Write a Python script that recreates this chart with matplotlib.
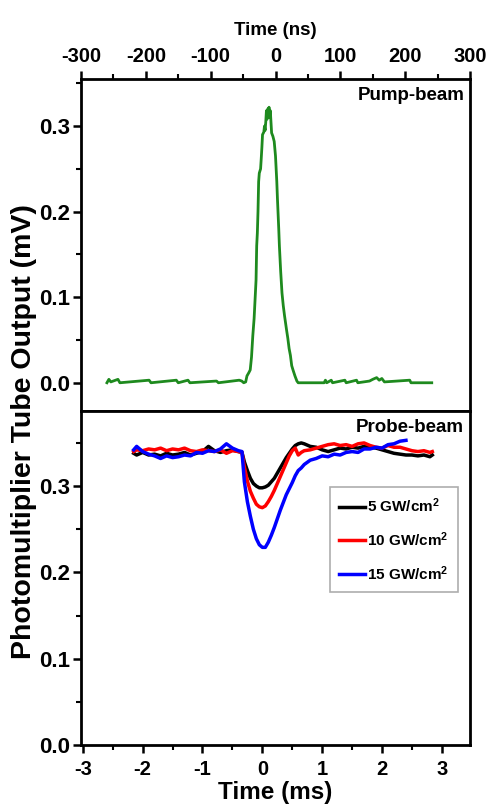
import matplotlib
matplotlib.use('Agg')
import matplotlib.pyplot as plt
from matplotlib.ticker import MultipleLocator

plt.rcParams['font.family'] = ['Liberation Sans', 'DejaVu Sans']
plt.rcParams['font.weight'] = 'bold'
plt.rcParams['mathtext.fontset'] = 'custom'
plt.rcParams['mathtext.rm'] = 'Liberation Sans:bold'
plt.rcParams['mathtext.it'] = 'Liberation Sans:bold'
plt.rcParams['mathtext.bf'] = 'Liberation Sans:bold'

# pump pulse (top panel), time in ns, output in mV
pump_t = [-260, -257, -254, -243, -240, -195, -192, -153, -150, -135, -132, -91, -88,
          -56, -52, -49, -46, -44, -41, -39, -37, -35, -33, -31, -30, -29, -28, -27,
          -26, -25, -23, -22, -21, -20, -18, -17, -16, -15, -14, -13, -12, -11, -10,
          -9, -8, -7, -6, -4, -2, 0, 2, 3, 5, 6, 8, 10, 12, 14, 17, 19, 21, 23, 25,
          27, 30, 33, 35, 75, 77, 79, 86, 88, 107, 109, 125, 127, 145, 150, 156, 160,
          164, 168, 207, 209, 241]
pump_v = [0.000, 0.004, 0.001, 0.004, 0.000, 0.003, 0.000, 0.003, 0.000, 0.003, 0.000, 0.002, 0.000,
          0.003, 0.002, 0.000, 0.001, 0.008, 0.012, 0.015, 0.030, 0.055, 0.075, 0.105, 0.120, 0.160, 0.175, 0.200,
          0.235, 0.245, 0.250, 0.262, 0.275, 0.290, 0.293, 0.300, 0.295, 0.305, 0.318, 0.308, 0.320, 0.312, 0.322,
          0.310, 0.318, 0.305, 0.292, 0.288, 0.282, 0.265, 0.235, 0.215, 0.180, 0.160, 0.130, 0.105, 0.090, 0.078, 0.062, 0.052, 0.040, 0.032, 0.020,
          0.015, 0.008, 0.002, 0.000, 0.000, 0.003, 0.000, 0.003, 0.000, 0.003, 0.000, 0.003, 0.000, 0.002, 0.004, 0.006, 0.003,
          0.005, 0.001, 0.003, 0.000, 0.000]

# probe beam (bottom panel), time in ms
probe_t = [-2.15, -2.1, -2.0, -1.9, -1.8, -1.7, -1.6, -1.5, -1.4, -1.3, -1.2, -1.1, -1.0, -0.9,
           -0.8, -0.7, -0.6, -0.5, -0.4, -0.34,
           -0.3, -0.25, -0.2, -0.15, -0.1, -0.05, 0.0, 0.05, 0.1, 0.15, 0.2, 0.25, 0.3, 0.35,
           0.4, 0.45, 0.5, 0.55, 0.6, 0.65, 0.7,
           0.8, 0.9, 1.0, 1.1, 1.2, 1.3, 1.4, 1.5, 1.6, 1.7, 1.8, 1.9, 2.0, 2.1, 2.2, 2.3, 2.4,
           2.5, 2.6, 2.7, 2.8, 2.84]
probe_5 = [0.338, 0.336, 0.339, 0.336, 0.337, 0.335, 0.338, 0.336, 0.337, 0.339, 0.336, 0.338, 0.340, 0.346,
           0.341, 0.339, 0.341, 0.342, 0.340, 0.339,
           0.328, 0.318, 0.309, 0.303, 0.300, 0.298, 0.298, 0.299, 0.301, 0.305, 0.309, 0.315, 0.321, 0.327,
           0.333, 0.338, 0.343, 0.347, 0.349, 0.350, 0.349,
           0.346, 0.345, 0.342, 0.340, 0.342, 0.344, 0.343, 0.345, 0.344, 0.346, 0.345, 0.344, 0.342, 0.340, 0.338, 0.337, 0.336,
           0.336, 0.335, 0.336, 0.334, 0.336]
probe_10 = [0.340, 0.342, 0.341, 0.343, 0.342, 0.344, 0.341, 0.343, 0.342, 0.344, 0.341, 0.340, 0.342, 0.341,
            0.340, 0.342, 0.338, 0.341, 0.340, 0.339,
            0.322, 0.306, 0.294, 0.286, 0.279, 0.276, 0.275, 0.277, 0.282, 0.288, 0.295, 0.303, 0.311, 0.319,
            0.327, 0.335, 0.341, 0.344, 0.336, 0.339, 0.341,
            0.342, 0.344, 0.346, 0.348, 0.349, 0.347, 0.348, 0.346, 0.349, 0.350, 0.347, 0.345, 0.344, 0.347, 0.345, 0.345, 0.343,
            0.341, 0.340, 0.341, 0.339, 0.340]
probe_15 = [0.342, 0.346, 0.340, 0.337, 0.335, 0.332, 0.335, 0.333, 0.334, 0.336, 0.335, 0.339, 0.338, 0.341,
            0.340, 0.343, 0.349, 0.344, 0.341, 0.340,
            0.305, 0.282, 0.265, 0.250, 0.239, 0.232, 0.229, 0.229, 0.235, 0.243, 0.252, 0.262, 0.272, 0.281,
            0.290, 0.297, 0.304, 0.312, 0.318, 0.321, 0.325,
            0.330, 0.332, 0.335, 0.334, 0.337, 0.336, 0.339, 0.340, 0.339, 0.343, 0.343, 0.345, 0.344, 0.348, 0.349, 0.352, 0.353]
probe_labels = ['5 GW/cm$^2$', '10 GW/cm$^2$', '15 GW/cm$^2$']
probe_colors = ['black', 'red', 'blue']

ns_ticks = [-300, -200, -100, 0, 100, 200, 300]
ms_ticks = [-3, -2, -1, 0, 1, 2, 3]
mv_ticks = [0.0, 0.1, 0.2, 0.3]

W, H = 488, 805
fig = plt.figure(figsize=(W / 100, H / 100), dpi=100)
ax1 = fig.add_axes([81 / W, 1 - 411 / H, 389 / W, 332 / H])
ax2 = fig.add_axes([81 / W, 1 - 745 / H, 389 / W, 334 / H])

# top panel
ax1.plot(pump_t, pump_v, color='#1e8a1e', lw=2)
ax1.set_xlim(-300, 300)
ax1.set_ylim(-0.033, 0.355)
ax1.xaxis.tick_top()
ax1.xaxis.set_label_position('top')
ax1.set_xlabel('Time (ns)', fontsize=13.5, fontweight='bold', labelpad=9)
ax1.set_xticks(ns_ticks)
ax1.set_xticklabels([str(v) for v in ns_ticks])
ax1.xaxis.set_minor_locator(MultipleLocator(50))
ax1.set_yticks(mv_ticks)
ax1.set_yticklabels(['%.1f' % v for v in mv_ticks])
ax1.yaxis.set_minor_locator(MultipleLocator(0.05))
ax1.text(0.985, 0.975, 'Pump-beam', transform=ax1.transAxes, ha='right', va='top',
         fontsize=13.5, fontweight='bold')

# bottom panel
for vals, lab, col in zip([probe_5, probe_10, probe_15], probe_labels, probe_colors):
    ax2.plot(probe_t[:len(vals)], vals, color=col, lw=2.5, label=lab)
ax2.set_xlim(-3.03, 3.47)
ax2.set_ylim(0, 0.387)
ax2.set_xlabel('Time (ms)', fontsize=17.5, fontweight='bold', labelpad=1)
ax2.set_xticks(ms_ticks)
ax2.set_xticklabels([str(v) for v in ms_ticks])
ax2.xaxis.set_minor_locator(MultipleLocator(0.5))
ax2.set_yticks(mv_ticks)
ax2.set_yticklabels(['%.1f' % v for v in mv_ticks])
ax2.yaxis.set_minor_locator(MultipleLocator(0.05))
ax2.text(0.985, 0.975, 'Probe-beam', transform=ax2.transAxes, ha='right', va='top',
         fontsize=13.5, fontweight='bold')
leg = ax2.legend(loc='upper right', bbox_to_anchor=(0.969, 0.772), fontsize=11,
                 handlelength=1.7, handletextpad=0.15, labelspacing=1.0,
                 fancybox=False, borderpad=0.6, borderaxespad=0)
leg.get_frame().set_edgecolor('#999999')
leg.get_frame().set_linewidth(1.2)
for t in leg.get_texts():
    t.set_fontweight('bold')

for ax in (ax1, ax2):
    for sp in ax.spines.values():
        sp.set_linewidth(2)
    ax.tick_params(which='major', direction='out', length=6, width=1.8, labelsize=14.5)
    ax.tick_params(which='minor', direction='out', length=3.5, width=1.5)
    ax.tick_params(axis='y', which='major', labelsize=16, pad=2)
    for lbl in ax.get_xticklabels() + ax.get_yticklabels():
        lbl.set_fontweight('bold')
ax1.tick_params(axis='x', which='both', pad=3)
ax2.tick_params(axis='x', which='major', pad=5)

fig.text(24 / W, 1 - 432 / H, 'Photomultiplier Tube Output (mV)', rotation=90,
         ha='center', va='center', fontsize=20.5, fontweight='bold')

fig.savefig('out.png', dpi=100, facecolor='white')
